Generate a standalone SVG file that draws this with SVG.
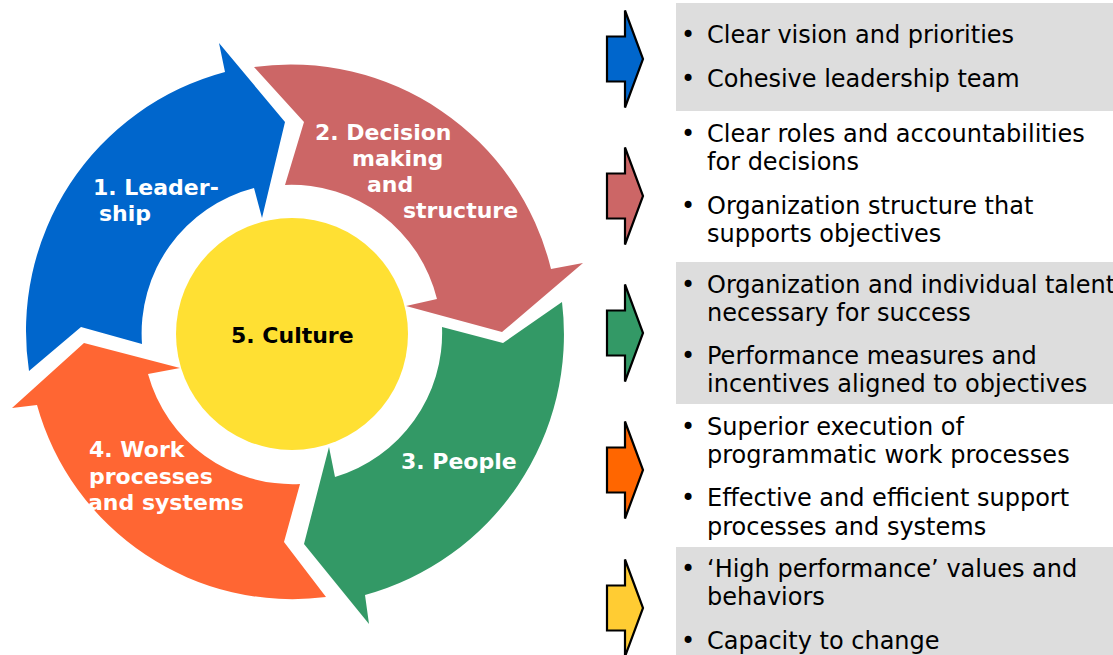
<svg xmlns="http://www.w3.org/2000/svg" width="1113" height="655" viewBox="0 0 1113 655">
  <style>
    .lbl { font-family: "DejaVu Sans", Verdana, sans-serif; font-weight: bold; font-size: 22px; fill: #ffffff; }
    .ctr { font-family: "DejaVu Sans", Verdana, sans-serif; font-weight: bold; font-size: 22px; fill: #000000; }
    .txt { font-family: "DejaVu Sans", Verdana, sans-serif; font-size: 24px; fill: #000000; }
    .band { fill: #dddddd; }
    .pointer { stroke: #000000; stroke-width: 2.2; stroke-linejoin: miter; }
  </style>
  <defs>
    <!-- block arrow used beside each list of points -->
    <path id="pointer" d="M607,-22.5 H625 V-48.5 L643,0 L625,48.5 V22.5 H607 Z"/>
  </defs>

  <rect width="1113" height="655" fill="#ffffff"/>

  <!-- shaded bands behind alternate lists -->
  <g id="bands">
    <rect class="band" x="676" y="3" width="437" height="108"/>
    <rect class="band" x="676" y="262" width="437" height="142"/>
    <rect class="band" x="676" y="547" width="437" height="108"/>
  </g>

  <!-- cycle of curved arrows -->
  <g id="cycle-leadership">
    <path fill="#0066cc" d="M29,371 A268,268 0 0 1 225,72 L219,43 L285,122 L262,218 L254,188 A150,150 0 0 0 142,344 L81,327 Z"/>
    <text class="lbl" x="93" y="195">1. Leader-</text>
    <text class="lbl" x="99" y="221">ship</text>
  </g>
  <g id="cycle-decision">
    <path fill="#cc6666" d="M254,67 A268,268 0 0 1 551,269 L583,263 L502,332 L406,306 L437,299 A150,150 0 0 0 285,185 L304,122 Z"/>
    <text class="lbl" x="315" y="140">2. Decision</text>
    <text class="lbl" x="352" y="166">making</text>
    <text class="lbl" x="367" y="192">and</text>
    <text class="lbl" x="403" y="218">structure</text>
  </g>
  <g id="cycle-people">
    <path fill="#339966" d="M562,302 A270,270 0 0 1 365,595 L369,624 L304,544 L329,447 L335,477 A150,150 0 0 0 442,327 L503,343 Z"/>
    <text class="lbl" x="401" y="469">3. People</text>
  </g>
  <g id="cycle-work">
    <path fill="#ff6633" d="M326,597 A265,265 0 0 1 37,405 L12,408 L84,343 L180,368 L148,374 A150,150 0 0 0 300,484 L284,542 Z"/>
    <text class="lbl" x="89" y="457">4. Work</text>
    <text class="lbl" x="89" y="484">processes</text>
    <text class="lbl" x="88" y="510">and systems</text>
  </g>
  <g id="cycle-culture">
    <circle cx="292" cy="334" r="116" fill="#ffe033"/>
    <text class="ctr" x="231" y="343">5. Culture</text>
  </g>

  <!-- pointers from the cycle to each list -->
  <g id="connectors">
    <use href="#pointer" class="pointer" fill="#0066cc" transform="translate(0,59)"/>
    <use href="#pointer" class="pointer" fill="#cc6666" transform="translate(0,196)"/>
    <use href="#pointer" class="pointer" fill="#339966" transform="translate(0,333)"/>
    <use href="#pointer" class="pointer" fill="#ff6600" transform="translate(0,470)"/>
    <use href="#pointer" class="pointer" fill="#ffcc33" transform="translate(0,608)"/>
  </g>

  <g id="list-leadership">
    <text class="txt" x="681" y="43">•</text><text class="txt" x="707" y="43">Clear vision and priorities</text>
    <text class="txt" x="681" y="87">•</text><text class="txt" x="707" y="87">Cohesive leadership team</text>
  </g>
  <g id="list-decision">
    <text class="txt" x="681" y="142">•</text><text class="txt" x="707" y="142">Clear roles and accountabilities</text>
    <text class="txt" x="707" y="170">for decisions</text>
    <text class="txt" x="681" y="214">•</text><text class="txt" x="707" y="214">Organization structure that</text>
    <text class="txt" x="707" y="242">supports objectives</text>
  </g>
  <g id="list-people">
    <text class="txt" x="681" y="293">•</text><text class="txt" x="707" y="293">Organization and individual talent</text>
    <text class="txt" x="707" y="321">necessary for success</text>
    <text class="txt" x="681" y="364">•</text><text class="txt" x="707" y="364">Performance measures and</text>
    <text class="txt" x="707" y="392">incentives aligned to objectives</text>
  </g>
  <g id="list-work">
    <text class="txt" x="681" y="435">•</text><text class="txt" x="707" y="435">Superior execution of</text>
    <text class="txt" x="707" y="463">programmatic work processes</text>
    <text class="txt" x="681" y="506">•</text><text class="txt" x="707" y="506">Effective and efficient support</text>
    <text class="txt" x="707" y="535">processes and systems</text>
  </g>
  <g id="list-culture">
    <text class="txt" x="681" y="577">•</text><text class="txt" x="707" y="577">‘High performance’ values and</text>
    <text class="txt" x="707" y="605">behaviors</text>
    <text class="txt" x="681" y="649">•</text><text class="txt" x="707" y="649">Capacity to change</text>
  </g>
</svg>
